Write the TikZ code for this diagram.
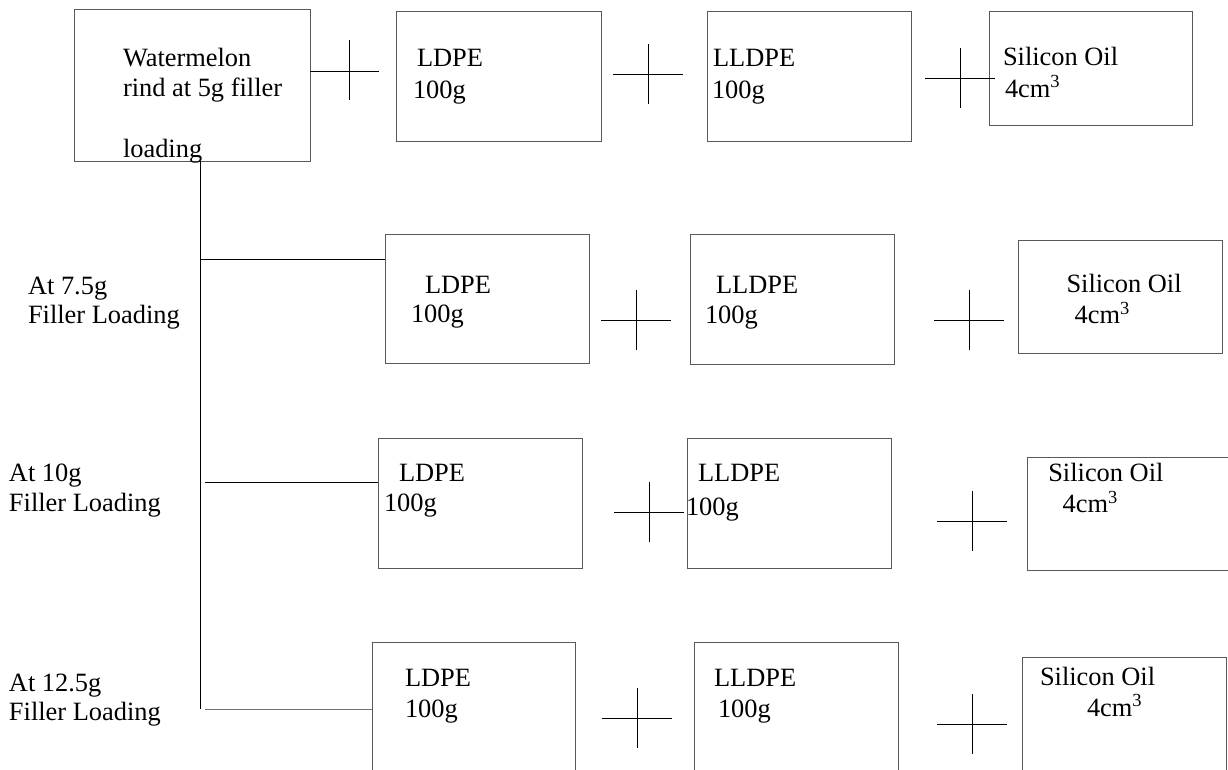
\documentclass[tikz,border=0pt]{standalone}
\usepackage{fontspec}
\setmainfont{Liberation Serif}
\begin{document}
\begin{tikzpicture}[x=1pt,y=-1pt,
  box/.style={draw=black!65, line width=1pt, inner sep=0pt, outer sep=0pt},
  lbl/.style={anchor=base west, inner sep=0pt, outer sep=0pt, font=\fontsize{26.4}{30}\selectfont},
  conn/.style={draw=black, line width=1pt},
  plusmk/.pic={\draw[conn] (-35,0) -- (35,0) (0,-30) -- (0,30);}]
\useasboundingbox (0,0) rectangle (1228,769);
\clip (0,0) rectangle (1228,769);
% boxes
\node[box, minimum width=236pt, minimum height=152pt] (wm) at (192,85) {};
\node[box, minimum width=205pt, minimum height=130pt] (ldpeA) at (498.5,76) {};
\node[box, minimum width=204pt, minimum height=130pt] (lldpeA) at (809,76) {};
\node[box, minimum width=203pt, minimum height=114pt] (silA) at (1090.5,68) {};
\node[box, minimum width=204pt, minimum height=129pt] (ldpeB) at (487,298.8) {};
\node[box, minimum width=204pt, minimum height=130pt] (lldpeB) at (792,299.7) {};
\node[box, minimum width=203.5pt, minimum height=113pt] (silB) at (1120.25,296.8) {};
\node[box, minimum width=204pt, minimum height=129.7pt] (ldpeC) at (480,503.2) {};
\node[box, minimum width=204pt, minimum height=129.7pt] (lldpeC) at (789,503.2) {};
\node[box, minimum width=204pt, minimum height=112.7pt] (silC) at (1129.3,513.7) {};
\node[box, minimum width=203pt, minimum height=134pt] (ldpeD) at (473.5,709.3) {};
\node[box, minimum width=203.3pt, minimum height=134pt] (lldpeD) at (796.35,709.3) {};
\node[box, minimum width=203.3pt, minimum height=118pt] (silD) at (1124.35,716.3) {};
% labels
\node[lbl] (wm1) at (123,66) {Watermelon};
\node[lbl] (wm2) at (123,96) {rind at 5g filler};
\node[lbl] (wm3) at (123,157) {loading};
\node[lbl] (a1) at (417,66) {LDPE};
\node[lbl] (a2) at (413,98) {100g};
\node[lbl] (a3) at (713,66) {LLDPE};
\node[lbl] (a4) at (712,98) {100g};
\node[lbl] (a5) at (1003,65) {Silicon Oil};
\node[lbl] (a6) at (1005,97) {4cm\textsuperscript{3}};
\node[lbl] (bL1) at (28,294) {At 7.5g};
\node[lbl] (bL2) at (28,323.3) {Filler Loading};
\node[lbl] (b1) at (425,293.3) {LDPE};
\node[lbl] (b2) at (411,322.7) {100g};
\node[lbl] (b3) at (716,293.3) {LLDPE};
\node[lbl] (b4) at (705,323.3) {100g};
\node[lbl] (b5) at (1066.5,292.7) {Silicon Oil};
\node[lbl] (b6) at (1074.6,323.3) {4cm\textsuperscript{3}};
\node[lbl] (cL1) at (9,481.7) {At 10g};
\node[lbl] (cL2) at (9,511.7) {Filler Loading};
\node[lbl] (c1) at (399,481.7) {LDPE};
\node[lbl] (c2) at (384,511.7) {100g};
\node[lbl] (c3) at (698,481.7) {LLDPE};
\node[lbl] (c4) at (686,515) {100g};
\node[lbl] (c5) at (1048.3,481.7) {Silicon Oil};
\node[lbl] (c6) at (1062.7,512.3) {4cm\textsuperscript{3}};
\node[lbl] (dL1) at (9,691.7) {At 12.5g};
\node[lbl] (dL2) at (9,720.7) {Filler Loading};
\node[lbl] (d1) at (405,686.7) {LDPE};
\node[lbl] (d2) at (405,717.3) {100g};
\node[lbl] (d3) at (714,686) {LLDPE};
\node[lbl] (d4) at (718,717) {100g};
\node[lbl] (d5) at (1040,685) {Silicon Oil};
\node[lbl] (d6) at (1087,716) {4cm\textsuperscript{3}};
% trunk and branches
\coordinate (jB) at (200,259.3);
\coordinate (jC) at (205,482.7);
\coordinate (jD) at (205,709);
\coordinate (jEnd) at (200,709);
\draw[conn] (wm.south -| jEnd) -- (jEnd);
\draw[conn] (jB) -- (ldpeB.west |- jB);
\draw[conn] (jC) -- (ldpeC.west |- jC);
\draw[conn, draw=black!55] (jD) -- (ldpeD.west |- jD);
% plus signs
\coordinate (pA) at (349,71);
\draw[conn] (wm.east |- pA) -- ++(69,0);
\draw[conn] (349,40) -- (349,100);
\pic at (648,74) {plusmk};
\pic at (960,78) {plusmk};
\pic at (636,320) {plusmk};
\pic at (969,320.3) {plusmk};
\pic at (649,512.3) {plusmk};
\pic at (972,521) {plusmk};
\pic at (637,718) {plusmk};
\pic at (972,724) {plusmk};
\end{tikzpicture}
\end{document}
